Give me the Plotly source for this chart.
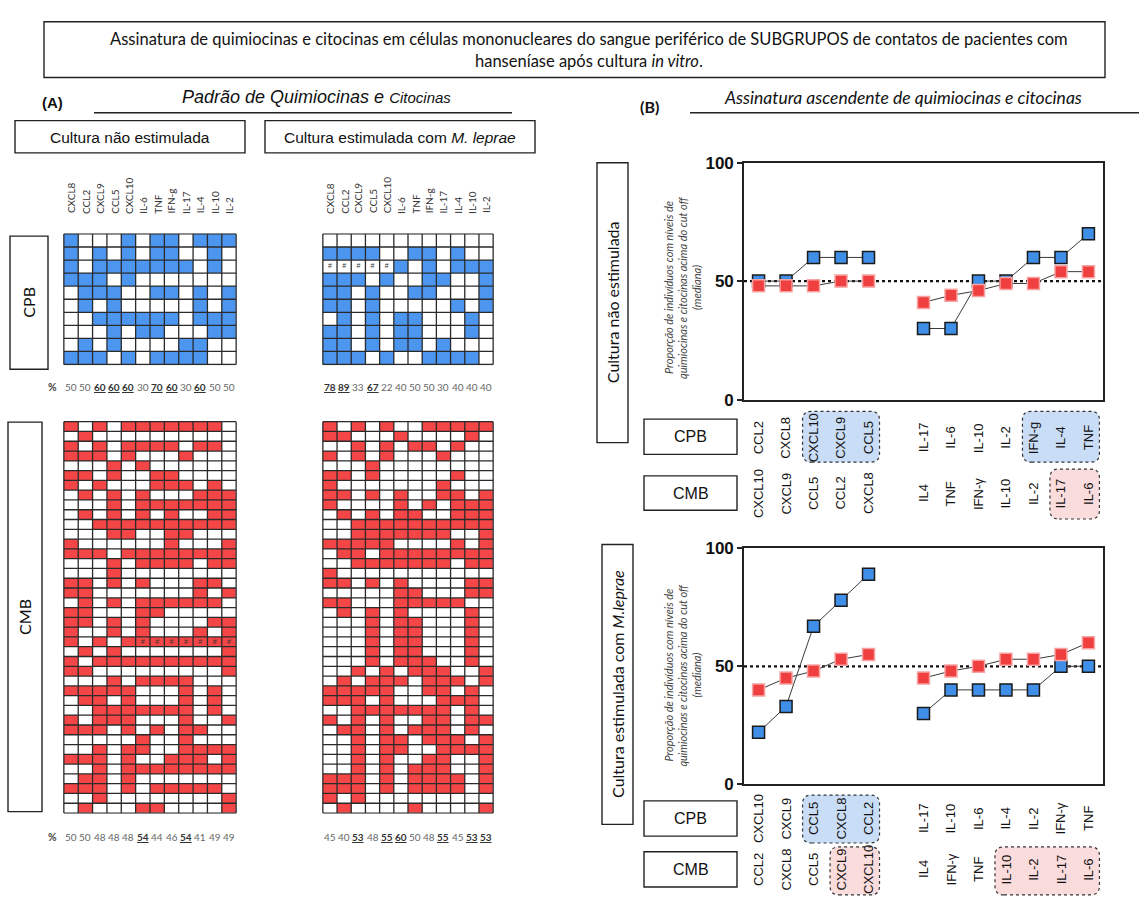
import plotly.graph_objects as go

W, H = 1139, 899

# ---------------------------------------------------------------- data
markers = ["CXCL8", "CCL2", "CXCL9", "CCL5", "CXCL10", "IL-6", "TNF",
           "IFN-g", "IL-17", "IL-4", "IL-10", "IL-2"]

# 1 = level above the cut off (median), 0 = below; one string per individual
cpb_unstim = [
    "100010110111", "101010110010", "101111111010", "111010000000",
    "011100110101", "010100000101", "001111110111", "000101100011",
    "010100001100", "111010111100",
]
cpb_stim = [
    "000000000000", "111100110100", "000001010111", "111010011001",
    "110100110001", "110100000101", "010101100010", "110101100010",
    "110101101000", "111010011110",
]
cmb_unstim = [
    "101011111110", "010000000000", "101011110110", "111010001000",
    "000101000000", "110100110000", "101000111010", "010101000111",
    "000101111111", "010101010011", "001111111111", "000110011000",
    "100000010001", "111011111111", "000101111011", "000100000000",
    "110101000110", "110000000101", "010101111110", "110001100000",
    "110101000011", "100101000101", "101011111111", "010100000001",
    "101111111111", "110000000001", "000101111000", "111110001010",
    "011010001010", "001111111010", "101110001001", "111010101100",
    "000001001000", "001011001111", "111010011101", "001011111111",
    "011010000000", "111010111110", "001000000001", "010001100001",
]
cmb_stim = [
    "101010011111", "110001000010", "001010110100", "101010001000",
    "000100000000", "110100000100", "100000001000", "110101001101",
    "100001010111", "010101100111", "001111111111", "001111111001",
    "111110000101", "011011111111", "001111111011", "100000000000",
    "110101000011", "000001100011", "110001111100", "010101000010",
    "000101100010", "000101100010", "000101100010", "000101100010",
    "000101110010", "001010111001", "010111011101", "111110011010",
    "111010001110", "001111111010", "101010011011", "011010111010",
    "001011011101", "001011001111", "001010011001", "001010111001",
    "111010111101", "111010111101", "101000000000", "010000100001",
]

# cells without a measurement (row, column)
cpb_stim_missing = [(2, 0), (2, 1), (2, 2), (2, 3), (2, 4)]
cmb_unstim_missing = [(22, 5), (22, 6), (22, 7), (22, 8), (22, 9), (22, 10), (22, 11)]

# percentage of individuals above the cut off, per marker
pct_cpb_unstim = [50, 50, 60, 60, 60, 30, 70, 60, 30, 60, 50, 50]
pct_cpb_stim = [78, 89, 33, 67, 22, 40, 50, 50, 30, 40, 40, 40]
pct_cmb_unstim = [50, 50, 48, 48, 48, 54, 44, 46, 54, 41, 49, 49]
pct_cmb_stim = [45, 40, 53, 48, 55, 60, 50, 48, 55, 45, 53, 53]

# ascending signatures: marker order (keys) and the label printed under each point
asc_unstim_cpb_chem = ["CCL2", "CXCL8", "CXCL10", "CXCL9", "CCL5"]
asc_unstim_cpb_cyto = ["IL-17", "IL-6", "IL-10", "IL-2", "IFN-g", "IL-4", "TNF"]
asc_unstim_cpb_cyto_lbl = ["IL-17", "IL-6", "IL-10", "IL-2", "IFN-g", "IL-4", "TNF"]
asc_unstim_cmb_chem = ["CXCL10", "CXCL9", "CCL5", "CCL2", "CXCL8"]
asc_unstim_cmb_cyto = ["IL-4", "TNF", "IFN-g", "IL-10", "IL-2", "IL-17", "IL-6"]
asc_unstim_cmb_cyto_lbl = ["IL4", "TNF", "IFN-γ", "IL-10", "IL-2", "IL-17", "IL-6"]

asc_stim_cpb_chem = ["CXCL10", "CXCL9", "CCL5", "CXCL8", "CCL2"]
asc_stim_cpb_cyto = ["IL-17", "IL-10", "IL-6", "IL-4", "IL-2", "IFN-g", "TNF"]
asc_stim_cpb_cyto_lbl = ["IL-17", "IL-10", "IL-6", "IL-4", "IL-2", "IFN-γ", "TNF"]
asc_stim_cmb_chem = ["CCL2", "CXCL8", "CCL5", "CXCL9", "CXCL10"]
asc_stim_cmb_cyto = ["IL-4", "IFN-g", "TNF", "IL-10", "IL-2", "IL-17", "IL-6"]
asc_stim_cmb_cyto_lbl = ["IL4", "IFN-γ", "TNF", "IL-10", "IL-2", "IL-17", "IL-6"]

# highlighted groups in the ascending signatures
hl_unstim_cpb = [["CXCL10", "CXCL9", "CCL5"], ["IFN-g", "IL-4", "TNF"]]
hl_unstim_cmb = [["IL-17", "IL-6"]]
hl_stim_cpb = [["CCL5", "CXCL8", "CCL2"]]
hl_stim_cmb = [["CXCL9", "CXCL10"], ["IL-10", "IL-2", "IL-17", "IL-6"]]

yaxis_desc = ["Proporção de indivíduos com níveis de",
              "quimiocinas e citocinas acima do cut off",
              "(mediana)"]

# ---------------------------------------------------------------- styling
BLUE = "#4d96f0"
RED = "#f44646"
BLUE_MK = "#3f8fe8"
RED_MK = "#ef3f3f"
F_ARIAL = "Liberation Sans, Arial, sans-serif"
F_CAL = "Lato, Carlito, Calibri, sans-serif"


def px(x):
    return x / W


def py(y):
    return 1 - y / H


fig = go.Figure()
annotations = []
shapes = []


def text(x, y, s, size=12, family=F_ARIAL, color="#111", angle=0,
         xanchor="center", yanchor="middle", xref="paper", yref="paper"):
    annotations.append(dict(
        x=x, y=y, xref=xref, yref=yref, text=s, showarrow=False,
        textangle=angle, xanchor=xanchor, yanchor=yanchor,
        font=dict(size=size, family=family, color=color)))


def rect(x0, y0, x1, y1, width=1.3, color="#222", fill="rgba(0,0,0,0)", dash=None):
    shapes.append(dict(type="rect", xref="paper", yref="paper",
                       x0=px(x0), x1=px(x1), y0=py(y1), y1=py(y0),
                       line=dict(color=color, width=width, dash=dash),
                       fillcolor=fill, layer="below"))


def rounded(x0, y0, x1, y1, fill, r=9):
    rx, ry = r / W, r / H
    X0, X1, Y0, Y1 = px(x0), px(x1), py(y1), py(y0)
    path = (f"M {X0+rx},{Y0} L {X1-rx},{Y0} Q {X1},{Y0} {X1},{Y0+ry} "
            f"L {X1},{Y1-ry} Q {X1},{Y1} {X1-rx},{Y1} L {X0+rx},{Y1} "
            f"Q {X0},{Y1} {X0},{Y1-ry} L {X0},{Y0+ry} Q {X0},{Y0} {X0+rx},{Y0} Z")
    shapes.append(dict(type="path", xref="paper", yref="paper", path=path,
                       fillcolor=fill, line=dict(color="#333", width=1.2, dash="dot"),
                       layer="below"))


# ---------------------------------------------------------------- heatmaps (A)
heat_panels = [
    dict(rows=cpb_unstim, color=BLUE, ax="", box=(63, 229, 237, 364),
         missing=[], pct=pct_cpb_unstim, pct_y=386, header=True, pct_sign=True),
    dict(rows=cpb_stim, color=BLUE, ax="2", box=(322, 229, 494, 364),
         missing=cpb_stim_missing, pct=pct_cpb_stim, pct_y=386, header=True, pct_sign=False),
    dict(rows=cmb_unstim, color=RED, ax="3", box=(63, 421, 237, 822),
         missing=cmb_unstim_missing, pct=pct_cmb_unstim, pct_y=846, header=False, pct_sign=True),
    dict(rows=cmb_stim, color=RED, ax="4", box=(322, 421, 494, 822),
         missing=[], pct=pct_cmb_stim, pct_y=846, header=False, pct_sign=False),
]

PAD = 0.06
layout_axes = {}
for p in heat_panels:
    z = [[int(ch) for ch in row] for row in p["rows"]]
    nr, nc = len(z), len(z[0])
    x0, y0, x1, y1 = p["box"]
    xa = "x" + p["ax"]
    ya = "y" + p["ax"]
    fig.add_trace(go.Heatmap(
        z=z, x=list(range(nc)), y=list(range(nr)), xaxis=xa, yaxis=ya,
        colorscale=[[0, "white"], [1, p["color"]]], zmin=0, zmax=1,
        showscale=False, hoverinfo="skip"))
    # cell borders
    gx, gy = [], []
    for c in range(nc + 1):
        gx += [c - 0.5, c - 0.5, None]
        gy += [-0.5, nr - 0.5, None]
    for r in range(nr + 1):
        gx += [-0.5, nc - 0.5, None]
        gy += [r - 0.5, r - 0.5, None]
    fig.add_trace(go.Scatter(x=gx, y=gy, xaxis=xa, yaxis=ya, mode="lines",
                             line=dict(color="#2a2a2a", width=1.3),
                             hoverinfo="skip", showlegend=False))
    if p["missing"]:
        fig.add_trace(go.Scatter(
            x=[c for r, c in p["missing"]], y=[r for r, c in p["missing"]],
            xaxis=xa, yaxis=ya, mode="text", text=["#"] * len(p["missing"]),
            textfont=dict(size=7, color="#333", family=F_ARIAL),
            hoverinfo="skip", showlegend=False))
    key = "xaxis" + p["ax"]
    layout_axes[key] = dict(domain=[px(x0), px(x1)], range=[-0.5 - PAD, nc - 0.5 + PAD],
                            visible=False, anchor=ya)
    layout_axes["yaxis" + p["ax"]] = dict(domain=[py(y1), py(y0)],
                                          range=[nr - 0.5 + PAD, -0.5 - PAD],
                                          visible=False, anchor=xa)
    if p["header"]:
        for c, m in enumerate(markers):
            text(c, py(211), m, size=10, family=F_CAL, color="#333", angle=-90,
                 yanchor="bottom", xref=xa)
    for c, v in enumerate(p["pct"]):
        s = f"<b><u>{v}</u></b>" if v > 50 else str(v)
        text(c, py(p["pct_y"]), s, size=10, family=F_CAL,
             color="#333" if v > 50 else "#666", xref=xa)
    if p["pct_sign"]:
        text(px(52), py(p["pct_y"]), "<b>%</b>", size=10.5, family=F_CAL, color="#444")

# ---------------------------------------------------------------- ascending signatures (B)
CHEM_SLOTS = [0, 1, 2, 3, 4]
CYTO_SLOTS = [6, 7, 8, 9, 10, 11, 12]
XMIN, XMAX = -0.53, 12.53
PX0, PX1 = 744, 1103


def slot_px(s):
    return PX0 + (s - XMIN) / (XMAX - XMIN) * (PX1 - PX0)


line_panels = [
    dict(ax="5", ytop=157, ybot=399,
         cpb=(pct_cpb_unstim, asc_unstim_cpb_chem, asc_unstim_cpb_cyto,
              asc_unstim_cpb_chem, asc_unstim_cpb_cyto_lbl, hl_unstim_cpb, 438, (419, 455), (411, 463)),
         cmb=(pct_cmb_unstim, asc_unstim_cmb_chem, asc_unstim_cmb_cyto,
              asc_unstim_cmb_chem, asc_unstim_cmb_cyto_lbl, hl_unstim_cmb, 495, (477, 512), (470, 521)),
         title="Cultura não estimulada", tbox=(597, 157, 628, 443), desc_y=285),
    dict(ax="6", ytop=551, ybot=792,
         cpb=(pct_cpb_stim, asc_stim_cpb_chem, asc_stim_cpb_cyto,
              asc_stim_cpb_chem, asc_stim_cpb_cyto_lbl, hl_stim_cpb, 827, (809, 845), (803, 852)),
         cmb=(pct_cmb_stim, asc_stim_cmb_chem, asc_stim_cmb_cyto,
              asc_stim_cmb_chem, asc_stim_cmb_cyto_lbl, hl_stim_cmb, 879, (861, 897), (856, 905)),
         title="Cultura estimulada com <i>M.leprae</i>", tbox=(602, 547, 633, 833), desc_y=681),
]

for lp in line_panels:
    xa, ya = "x" + lp["ax"], "y" + lp["ax"]
    series = []
    for grp, mk, border, bw in (("cpb", BLUE_MK, "#1a1a1a", 1.5),
                                ("cmb", RED_MK, "#f7a3a3", 1.5)):
        pct, chem, cyto, chem_lbl, cyto_lbl, hl, ylab, lbox, hbox = lp[grp]
        lookup = dict(zip(markers, pct))
        xs = CHEM_SLOTS + [None] + CYTO_SLOTS
        ys = [lookup[m] for m in chem] + [None] + [lookup[m] for m in cyto]
        series.append((xs, ys, mk, border, bw))
        # labels under the chart
        for s, lbl in zip(CHEM_SLOTS + CYTO_SLOTS, chem_lbl + cyto_lbl):
            text(s, py(ylab), lbl, size=13, family=F_ARIAL, color="#111",
                 angle=-90, xref=xa)
        # group name box
        rect(644, lbox[0], 737, lbox[1], width=1.4)
        text(px(690.5), py((lbox[0] + lbox[1]) / 2), grp.upper(), size=16,
             family=F_ARIAL, color="#111")
        # highlighted groups
        order = chem + cyto
        slots = CHEM_SLOTS + CYTO_SLOTS
        for g in hl:
            idx = [slots[order.index(m)] for m in g]
            fill = "#c9ddf6" if grp == "cpb" else "#fadcdc"
            rounded(slot_px(min(idx)) - 11, hbox[0], slot_px(max(idx)) + 11, hbox[1], fill)
    # connecting lines first, then the markers
    for xs, ys, mk, border, bw in series:
        fig.add_trace(go.Scatter(x=xs, y=ys, xaxis=xa, yaxis=ya, mode="lines",
                                 line=dict(color="#3a3a3a", width=1),
                                 hoverinfo="skip", showlegend=False, connectgaps=False))
    for xs, ys, mk, border, bw in series:
        fig.add_trace(go.Scatter(x=xs, y=ys, xaxis=xa, yaxis=ya, mode="markers",
                                 marker=dict(symbol="square", size=12, color=mk,
                                             line=dict(color=border, width=bw)),
                                 cliponaxis=False, hoverinfo="skip", showlegend=False))
    layout_axes["xaxis" + lp["ax"]] = dict(
        domain=[px(PX0), px(PX1)], range=[XMIN, XMAX], anchor=ya,
        showticklabels=False, ticks="", showgrid=False, zeroline=False,
        showline=True, mirror=True, linecolor="#222", linewidth=1.6)
    layout_axes["yaxis" + lp["ax"]] = dict(
        domain=[py(lp["ybot"]), py(lp["ytop"])], range=[0, 100], anchor=xa,
        tickvals=[0, 50, 100], ticktext=["<b>0</b>", "<b>50</b>", "<b>100</b>"],
        tickfont=dict(size=17, family=F_ARIAL, color="#111"),
        ticks="outside", ticklen=5, tickcolor="#222", tickwidth=1.5,
        showgrid=False, zeroline=False, showline=True, mirror=True,
        linecolor="#222", linewidth=1.6)
    # median reference
    shapes.append(dict(type="line", xref=xa + " domain", yref=ya, x0=0, x1=1,
                       y0=50, y1=50, line=dict(color="#111", width=2.2, dash="dot"),
                       layer="below"))
    # y axis description, one annotation per line
    for xl, line in zip((669, 683, 697), yaxis_desc):
        text(px(xl), py(lp["desc_y"]), f"<i>{line}</i>", size=11, family=F_CAL,
             color="#444", angle=-90)
    # culture condition box
    tx0, ty0, tx1, ty1 = lp["tbox"]
    rect(tx0, ty0, tx1, ty1, width=1.4)
    text(px((tx0 + tx1) / 2), py((ty0 + ty1) / 2), lp["title"], size=16,
         family=F_CAL, color="#111", angle=-90)

# ---------------------------------------------------------------- headings
rect(44, 13, 1105, 70, width=1.4)
text(px(589), py(31), "Assinatura de quimiocinas e citocinas em células mononucleares do sangue periférico de SUBGRUPOS de contatos de pacientes com",
     size=16.5, family=F_CAL, color="#111")
text(px(589), py(53), "hanseníase após cultura <i>in vitro</i>.", size=16.5, family=F_CAL, color="#111")

text(px(52), py(96), "<b>(A)</b>", size=15, family=F_ARIAL, color="#111")
text(px(316), py(90), "<i>Padrão de Quimiocinas e </i><span style='font-size:15px'><i>Citocinas</i></span>",
     size=18, family=F_ARIAL, color="#111")
shapes.append(dict(type="line", xref="paper", yref="paper", x0=px(94), x1=px(512),
                   y0=py(106), y1=py(106), line=dict(color="#222", width=1.3)))
rect(15, 114, 245, 147, width=1.4)
text(px(130), py(131), "Cultura não estimulada", size=15.5, family=F_ARIAL, color="#111")
rect(265, 114, 535, 147, width=1.4)
text(px(400), py(131), "Cultura estimulada com <i>M. leprae</i>", size=15.5, family=F_ARIAL, color="#111")

text(px(649), py(100), "<b>(B)</b>", size=16, family=F_CAL, color="#111")
text(px(903), py(90), "<i>Assinatura ascendente de quimiocinas e citocinas</i>",
     size=17.5, family=F_CAL, color="#111")
shapes.append(dict(type="line", xref="paper", yref="paper", x0=px(690), x1=px(1139),
                   y0=py(106), y1=py(106), line=dict(color="#222", width=1.3)))

# group boxes of the heatmaps
rect(10, 232, 48, 368, width=1.4)
text(px(29), py(300), "CPB", size=16, family=F_CAL, color="#111", angle=-90)
rect(8, 422, 42, 820, width=1.4)
text(px(25), py(621), "CMB", size=16, family=F_CAL, color="#111", angle=-90)

fig.update_layout(
    width=W, height=H, margin=dict(l=0, r=0, t=0, b=0),
    paper_bgcolor="white", plot_bgcolor="white", showlegend=False,
    annotations=annotations, shapes=shapes, **layout_axes)

fig.write_html("out.html")
